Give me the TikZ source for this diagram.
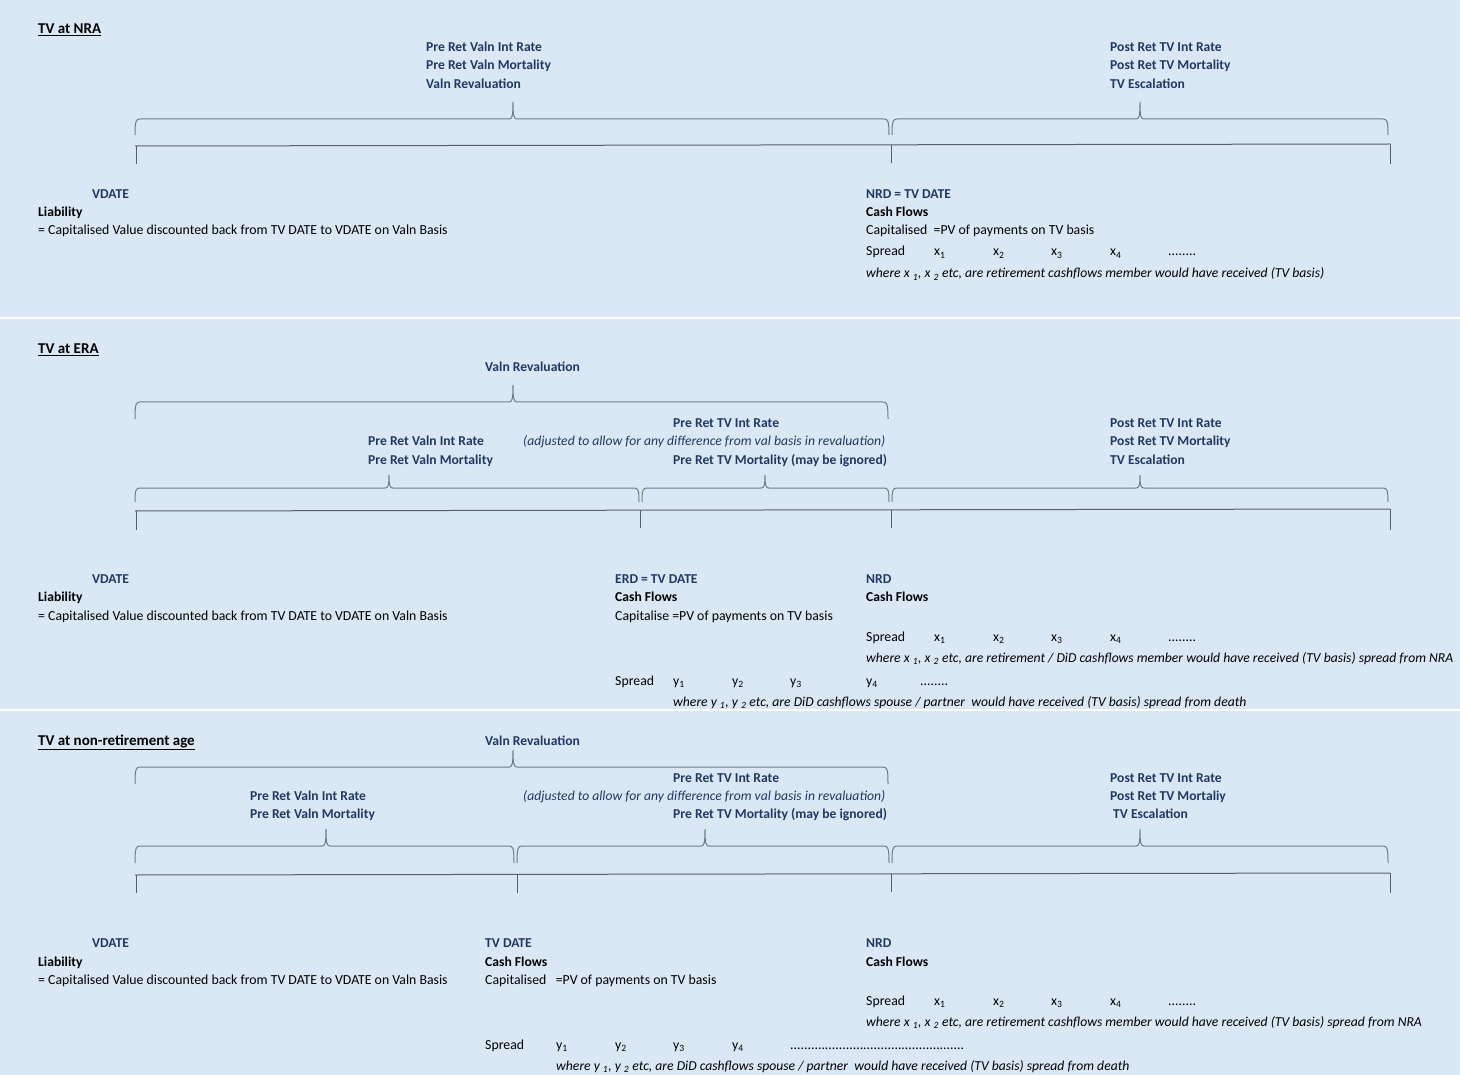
\documentclass[tikz,border=0pt]{standalone}
\usepackage{fontspec}
\setmainfont{Carlito}
\definecolor{bgblue}{HTML}{DAE8F5}
\definecolor{navy}{HTML}{203864}
\definecolor{braceline}{HTML}{6E7D8C}
\definecolor{axisline}{HTML}{56606C}
\newcommand{\tvbrace}[6]{%
  \draw[bracestyle] (#1,#4+#5) .. controls (#1,#4+2) and (#1+1,#4) .. (#1+5,#4)
    -- (#3-4,#4) .. controls (#3-1,#4) and (#3,#4-2) .. (#3,#4-#6)
    .. controls (#3,#4-2) and (#3+1,#4) .. (#3+4,#4)
    -- (#2-5,#4) .. controls (#2-1,#4) and (#2,#4+2) .. (#2,#4+#5);}
\begin{document}
\begin{tikzpicture}[x=1pt,y=-1pt,
  txt/.style={anchor=base west,inner sep=0pt,yshift=-2pt,font=\fontsize{13.8}{16}\selectfont},
  lab/.style={txt,text=navy,font=\fontsize{13.6}{16}\selectfont\bfseries},
  nit/.style={txt,text=navy,font=\fontsize{13.65}{16}\selectfont\itshape},
  blk/.style={txt,text=black,font=\fontsize{13.6}{16}\selectfont\bfseries},
  body/.style={txt,text=black},
  itx/.style={txt,text=black,font=\fontsize{13.65}{16}\selectfont\itshape},
  ttl/.style={txt,text=black,font=\fontsize{15}{17}\selectfont\bfseries},
  bracestyle/.style={draw=braceline,line width=1pt},
  axis/.style={draw=axisline,line width=1pt},
  sep/.style={draw=white,line width=2pt}]
\useasboundingbox (0,0) rectangle (1460,1075);
\fill[bgblue] (0,0) rectangle (1460,1075);
\draw[sep] (0,318.5) -- (1460,318.5);
\draw[sep] (0,709.5) -- (1460,709.5);

% ================= Section 1 =================
\node[ttl] (t1) at (38,32) {\underline{TV at NRA}};
\node[lab] (a1) at (426,50) {Pre Ret Valn Int Rate};
\node[lab] (a2) at (426,68) {Pre Ret Valn Mortality};
\node[lab] (a3) at (426,87) {Valn Revaluation};
\node[lab] (b1) at (1110,50) {Post Ret TV Int Rate};
\node[lab] (b2) at (1110,68) {Post Ret TV Mortality};
\node[lab] (b3) at (1110,87) {TV Escalation};
\tvbrace{135}{889}{513}{119}{16}{17}
\tvbrace{892}{1388}{1140}{119}{16}{17}
\draw[axis] (135,146) -- (1390,144);
\draw[axis] (136,146) -- (136,164);
\draw[axis] (891,145) -- (891,163);
\draw[axis] (1390,144) -- (1390,164);
\node[lab] (v1) at (92,197) {VDATE};
\node[blk] (l1) at (38,215) {Liability};
\node[body] (c1) at (38,233) {= Capitalised Value discounted back from TV DATE to VDATE on Valn Basis};
\node[lab] (n1) at (866,197) {NRD = TV DATE};
\node[blk] (f1) at (866,215) {Cash Flows};
\node[body] (p1) at (866,233) {Capitalised\ \ =PV of payments on TV basis};
\node[body] (s1) at (866,254) {Spread};
\node[body] (x11) at (934,254) {x\textsubscript{1}};
\node[body] (x12) at (993,254) {x\textsubscript{2}};
\node[body] (x13) at (1051,254) {x\textsubscript{3}};
\node[body] (x14) at (1110,254) {x\textsubscript{4}};
\node[body] (d1) at (1168,254) {........};
\node[itx] (w1) at (866,276) {where x \textsubscript{1}, x \textsubscript{2} etc, are retirement cashflows member would have received (TV basis)};

% ================= Section 2 =================
\node[ttl] (t2) at (38,352) {\underline{TV at ERA}};
\node[lab] (r2) at (485,370) {Valn Revaluation};
\tvbrace{135}{888}{513}{402}{17}{17}
\node[lab] (e1) at (673,426) {Pre Ret TV Int Rate};
\node[nit] (e2) at (523,444) {(adjusted to allow for any difference from val basis in revaluation)};
\node[lab] (e3) at (673,462) {Pre Ret TV Mortality (may be ignored)};
\node[lab] (g1) at (368,444) {Pre Ret Valn Int Rate};
\node[lab] (g2) at (368,462) {Pre Ret Valn Mortality};
\node[lab] (h1) at (1110,426) {Post Ret TV Int Rate};
\node[lab] (h2) at (1110,444) {Post Ret TV Mortality};
\node[lab] (h3) at (1110,462) {TV Escalation};
\tvbrace{135}{639}{389}{488}{14}{13}
\tvbrace{642}{889}{765}{488}{14}{13}
\tvbrace{892}{1388}{1140}{488}{14}{13}
\draw[axis] (135,511) -- (1390,509);
\draw[axis] (136,511) -- (136,530);
\draw[axis] (640,510) -- (640,528);
\draw[axis] (891,510) -- (891,528);
\draw[axis] (1390,509) -- (1390,530);
\node[lab] (v2) at (92,581) {VDATE};
\node[blk] (l2) at (38,599) {Liability};
\node[body] (c2) at (38,618) {= Capitalised Value discounted back from TV DATE to VDATE on Valn Basis};
\node[lab] (n2) at (615,581) {ERD = TV DATE};
\node[blk] (f2) at (615,599) {Cash Flows};
\node[body] (p2) at (615,618) {Capitalise =PV of payments on TV basis};
\node[lab] (m2) at (866,581) {NRD};
\node[blk] (k2) at (866,599) {Cash Flows};
\node[body] (s2) at (866,639) {Spread};
\node[body] (x21) at (934,639) {x\textsubscript{1}};
\node[body] (x22) at (993,639) {x\textsubscript{2}};
\node[body] (x23) at (1051,639) {x\textsubscript{3}};
\node[body] (x24) at (1110,639) {x\textsubscript{4}};
\node[body] (d2) at (1168,639) {........};
\node[itx] (w2) at (866,660) {where x \textsubscript{1}, x \textsubscript{2} etc, are retirement / DiD cashflows member would have received (TV basis) spread from NRA};
\node[body] (q2) at (615,683) {Spread};
\node[body] (y21) at (673,683) {y\textsubscript{1}};
\node[body] (y22) at (732,683) {y\textsubscript{2}};
\node[body] (y23) at (790,683) {y\textsubscript{3}};
\node[body] (y24) at (866,683) {y\textsubscript{4}};
\node[body] (dd2) at (920,683) {........};
\node[itx] (z2) at (673,704) {where y \textsubscript{1}, y \textsubscript{2} etc, are DiD cashflows spouse / partner\ \ would have received (TV basis) spread from death};

% ================= Section 3 =================
\node[ttl] (t3) at (38,743) {\underline{TV at non-retirement age}};
\node[lab] (r3) at (485,743) {Valn Revaluation};
\tvbrace{135}{888}{513}{767}{17}{17}
\node[lab] (e4) at (673,780) {Pre Ret TV Int Rate};
\node[nit] (e5) at (523,798) {(adjusted to allow for any difference from val basis in revaluation)};
\node[lab] (e6) at (673,816) {Pre Ret TV Mortality (may be ignored)};
\node[lab] (g3) at (250,798) {Pre Ret Valn Int Rate};
\node[lab] (g4) at (250,816) {Pre Ret Valn Mortality};
\node[lab] (h4) at (1110,780) {Post Ret TV Int Rate};
\node[lab] (h5) at (1110,798) {Post Ret TV Mortaliy};
\node[lab] (h6) at (1113,816) {TV Escalation};
\tvbrace{135}{514}{326}{846}{17}{17}
\tvbrace{517}{889}{705}{846}{17}{17}
\tvbrace{892}{1388}{1140}{846}{17}{17}
\draw[axis] (135,875) -- (1390,873);
\draw[axis] (136,875) -- (136,893);
\draw[axis] (517,875) -- (517,893);
\draw[axis] (891,874) -- (891,892);
\draw[axis] (1390,873) -- (1390,893);
\node[lab] (v3) at (92,945) {VDATE};
\node[blk] (l3) at (38,964) {Liability};
\node[body] (c3) at (38,982) {= Capitalised Value discounted back from TV DATE to VDATE on Valn Basis};
\node[lab] (n3) at (485,945) {TV DATE};
\node[blk] (f3) at (485,964) {Cash Flows};
\node[body] (p3) at (485,982) {Capitalised\ \ \ =PV of payments on TV basis};
\node[lab] (m3) at (866,945) {NRD};
\node[blk] (k3) at (866,964) {Cash Flows};
\node[body] (s3) at (866,1003) {Spread};
\node[body] (x31) at (934,1003) {x\textsubscript{1}};
\node[body] (x32) at (993,1003) {x\textsubscript{2}};
\node[body] (x33) at (1051,1003) {x\textsubscript{3}};
\node[body] (x34) at (1110,1003) {x\textsubscript{4}};
\node[body] (d3) at (1168,1003) {........};
\node[itx] (w3) at (866,1024) {where x \textsubscript{1}, x \textsubscript{2} etc, are retirement cashflows member would have received (TV basis) spread from NRA};
\node[body] (q3) at (485,1047) {Spread};
\node[body] (y31) at (556,1047) {y\textsubscript{1}};
\node[body] (y32) at (615,1047) {y\textsubscript{2}};
\node[body] (y33) at (673,1047) {y\textsubscript{3}};
\node[body] (y34) at (732,1047) {y\textsubscript{4}};
\node[body] (dd3) at (790,1047) {..................................................};
\node[itx] (z3) at (556,1068) {where y \textsubscript{1}, y \textsubscript{2} etc, are DiD cashflows spouse / partner\ \ would have received (TV basis) spread from death};
\end{tikzpicture}
\end{document}
